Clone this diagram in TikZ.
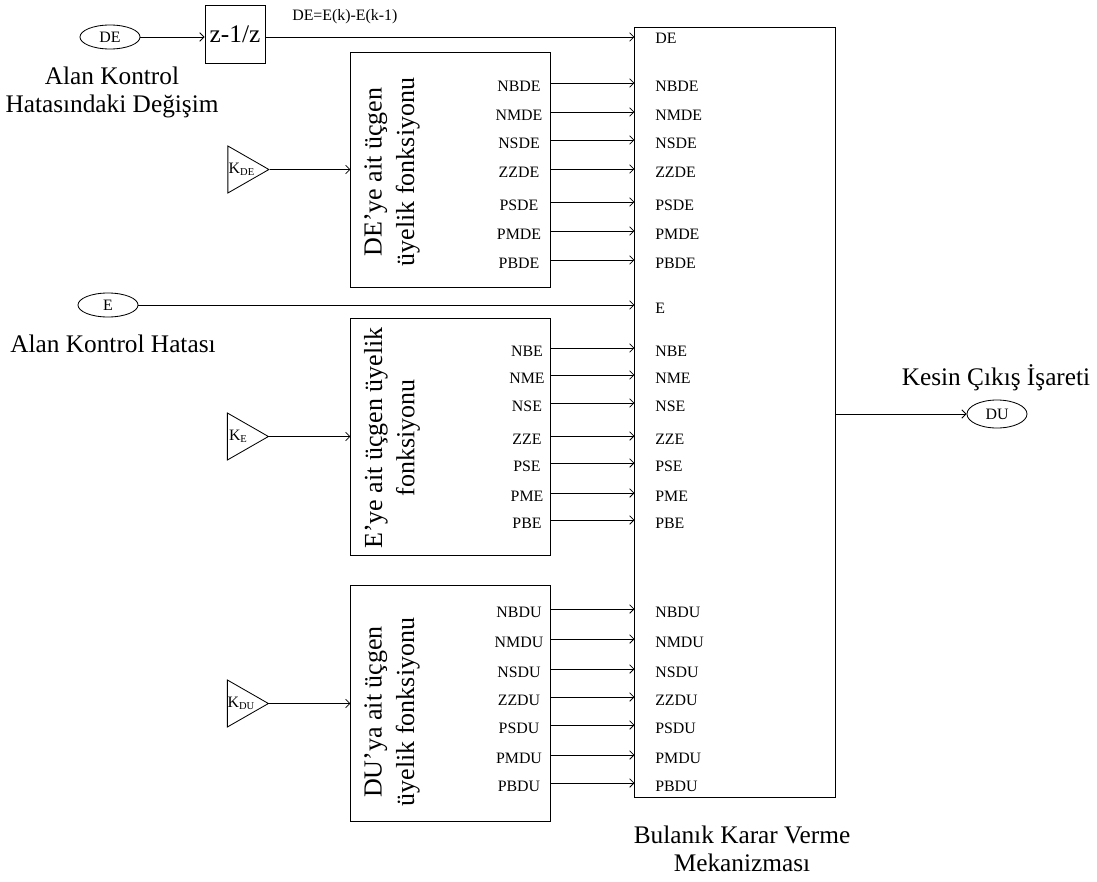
\documentclass[tikz,border=0pt]{standalone}
\usepackage{fontspec}
\setmainfont{Liberation Serif}
\usetikzlibrary{arrows.meta, positioning, shapes.geometric, calc}
\newdimen\pxu \pxu=0.7113pt
\newcommand{\ksub}[1]{K\lower0.35ex\hbox{\fontsize{7.5}{8}\selectfont #1}}
\tikzset{
	bigtxt/.style={inner sep=0pt, align=center, font=\fontsize{18}{19.5}\selectfont},
	rottxt/.style={inner sep=0pt, align=center, rotate=90, font=\fontsize{18.5}{23}\selectfont},
	lbl/.style={inner sep=0pt, font=\fontsize{11.3}{13}\selectfont},
	fnbox/.style={rectangle, draw, line width=0.7pt, minimum width=199\pxu, inner sep=0pt},
	sig/.style={ellipse, draw, line width=0.6pt, minimum width=60\pxu, minimum height=24\pxu, inner sep=0pt, font=\fontsize{11.3}{13}\selectfont},
	gain/.style={isosceles triangle, isosceles triangle stretches, draw, line width=0.6pt, minimum width=47\pxu, minimum height=41\pxu, inner sep=0pt},
	arr/.style={-{Straight Barb[length=3pt,width=6pt]}, line width=0.6pt},
}
\begin{document}
\begin{tikzpicture}[x=0.025cm, y=-0.025cm]
		\useasboundingbox (0,0) rectangle (1097,881);
		% inputs
		\node[sig] (de) at (110,37) {DE};
		\node[rectangle, draw, line width=0.7pt, minimum width=60\pxu, minimum height=58\pxu, inner sep=0pt, font=\fontsize{18}{20}\selectfont] (zbox) at (235,34) {z-1/z};
		\node[lbl, anchor=base west] (delbl) at (292,20) {DE=E(k)-E(k-1)};
		\node[bigtxt, anchor=north] (detxt) at (112,67) {Alan Kontrol\\Hatasındaki Değişim};
		\node[sig] (e) at (108,305) {E};
		\node[bigtxt, anchor=base] (etxt) at (113,352) {Alan Kontrol Hatası};
		% membership blocks
		\node[fnbox, minimum height=234\pxu] (debox) at (450.5,170) {};
		\node[fnbox, minimum height=236\pxu] (ebox) at (450.5,437) {};
		\node[fnbox, minimum height=235\pxu] (dubox) at (450.5,703.5) {};
		\node[rottxt] (debt) at (392,172) {DE’ye ait üçgen\\üyelik fonksiyonu};
		\node[rottxt] (ebt) at (392,438) {E’ye ait üçgen üyelik\\fonksiyonu};
		\node[rottxt] (dubt) at (392,712) {DU’ya ait üçgen\\üyelik fonksiyonu};
		% gains
		\node[gain] (kde) at (241.5,169.5) {};
		\node[gain] (ke) at (241,436.5) {};
		\node[gain] (kdu) at (241,703.5) {};
		\node[lbl] (kdet) at ([xshift=14\pxu]kde.lower side) {\ksub{DE}};
		\node[lbl] (ket) at ([xshift=11\pxu]ke.lower side) {\ksub{E}};
		\node[lbl] (kdut) at ([xshift=14\pxu]kdu.lower side) {\ksub{DU}};
		% decision block
		\node[rectangle, draw, line width=0.7pt, minimum width=200\pxu, minimum height=769\pxu, inner sep=0pt] (bkvm) at (735,412.5) {};
		\node[bigtxt, anchor=north] (bkvmt) at (742,826) {Bulanık Karar Verme\\Mekanizması};
		\node[lbl, anchor=base west] (rde) at (655,44) {DE};
		\node[lbl, anchor=base west] (re) at (655,313) {E};
		\node[sig, minimum height=28\pxu] (du) at (997,414) {DU};
		\node[bigtxt, anchor=base] (dutxt) at (996,385) {Kesin Çıkış İşareti};
		% connectors
		\draw[arr] (de.east) -- (zbox.west |- de.east);
		\draw[arr] (zbox.east |- de.east) -- (bkvm.west |- de.east);
		\draw[arr] (e.east) -- (e.east -| bkvm.west);
		\draw[arr] (kde.apex) -- (kde.apex -| debox.west);
		\draw[arr] (ke.apex) -- (ke.apex -| ebox.west);
		\draw[arr] (kdu.apex) -- (kdu.apex -| dubox.west);
		\draw[arr] (bkvm.east |- du.west) -- (du.west);
		\foreach \t/\yy [count=\i] in {NBDE/83, NMDE/112, NSDE/140, ZZDE/169, PSDE/202, PMDE/231, PBDE/260}{
			\node[lbl, anchor=base] (dl\i) at (519,\yy+8) {\t};
			\node[lbl, anchor=base west] (dr\i) at (655,\yy+8) {\t};
			\draw[arr] (debox.east |- 0,\yy) -- (bkvm.west |- 0,\yy);
		}
		\foreach \t/\yy [count=\i] in {NBE/348, NME/375, NSE/403, ZZE/436, PSE/463, PME/493, PBE/520}{
			\node[lbl, anchor=base] (el\i) at (527,\yy+8) {\t};
			\node[lbl, anchor=base west] (er\i) at (655,\yy+8) {\t};
			\draw[arr] (ebox.east |- 0,\yy) -- (bkvm.west |- 0,\yy);
		}
		\foreach \t/\yy [count=\i] in {NBDU/609, NMDU/639, NSDU/669, ZZDU/697, PSDU/725, PMDU/755, PBDU/783}{
			\node[lbl, anchor=base] (dul\i) at (519,\yy+8) {\t};
			\node[lbl, anchor=base west] (dur\i) at (655,\yy+8) {\t};
			\draw[arr] (dubox.east |- 0,\yy) -- (bkvm.west |- 0,\yy);
		}
	\end{tikzpicture}
\end{document}
